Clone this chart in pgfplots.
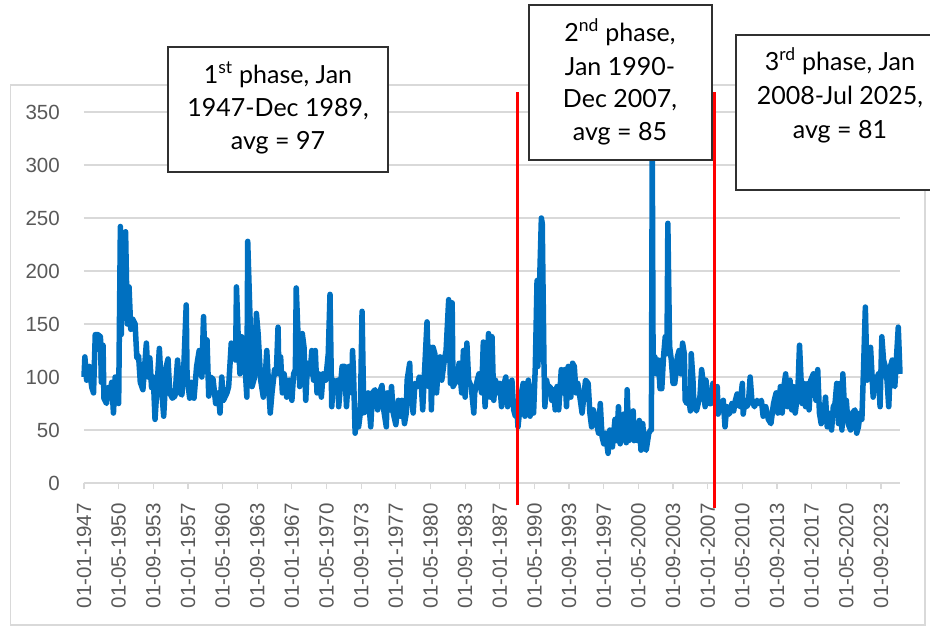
\documentclass[border=0pt]{standalone}
\usepackage{fontspec}
\setmainfont{Liberation Sans}
\newfontfamily\boxfont{Lato}
\usepackage{pgfplots}
\pgfplotsset{compat=1.18}
\definecolor{lineblue}{HTML}{0070C0}
\definecolor{gridgray}{HTML}{D9D9D9}
\definecolor{ticktext}{HTML}{595959}
\definecolor{boxedge}{HTML}{303030}
\newcommand{\boxline}[3]{\node[anchor=base, inner sep=0pt, font=\boxfont\fontsize{25}{30}\selectfont, text=black] at (#1pt,-#2pt) {#3};}
\begin{document}
\begin{tikzpicture}
\clip (0pt,0pt) rectangle (930pt,-627pt);
\fill[white] (0pt,0pt) rectangle (930pt,-627pt);
\draw[gridgray, line width=1.2pt] (10.5pt,-85pt) rectangle (925pt,-625pt);
\begin{axis}[
  at={(84pt,-483pt)}, anchor=south west,
  width=816pt, height=371pt, scale only axis,
  xmin=0, xmax=942, ymin=0, ymax=350,
  axis x line*=bottom, axis y line*=left,
  x axis line style={gridgray, line width=1.5pt},
  y axis line style={draw=none},
  xtick={0,40,...,920},
  xticklabels={01-01-1947,01-05-1950,01-09-1953,01-01-1957,01-05-1960,01-09-1963,01-01-1967,01-05-1970,01-09-1973,01-01-1977,01-05-1980,01-09-1983,01-01-1987,01-05-1990,01-09-1993,01-01-1997,01-05-2000,01-09-2003,01-01-2007,01-05-2010,01-09-2013,01-01-2017,01-05-2020,01-09-2023},
  ytick={0,50,...,350},
  ymajorgrids, grid style={gridgray, line width=1.2pt},
  tick align=outside,
  major tick length=6pt,
  xtick style={gridgray, line width=1.2pt},
  ytick style={draw=none},
  /pgf/number format/assume math mode=true,
  tick label style={font=\fontsize{20.5}{24}\selectfont, text=ticktext},
  xticklabel style={rotate=90, anchor=east, inner sep=0pt},
  yticklabel style={anchor=east, inner sep=0pt},
  xticklabel shift=14pt,
  yticklabel shift=18pt,
  clip=false,
]
\addplot[lineblue, line width=5.5pt, line join=round, mark=none] coordinates {
(0,100)(1,119)(3,97)(6,110)(9,90)(11,85)(13,140)(16,140)(19,138)(20,95)(22,130)(23,80)(26,75)(28,90)(30,85)(32,95)(34,66)(36,100)(38,100)(40,75)
(42,242)(43,140)(45,230)(48,237)(50,150)(52,185)(54,145)(56,155)(59,150)(61,118)(63,120)(65,95)(68,88)(70,110)(72,132)(74,100)(76,118)(78,90)(80,100)(82,60)
(85,100)(87,127)(89,95)(92,63)(95,110)(97,117)(99,85)(102,80)(105,82)(108,116)(111,85)(113,83)(115,105)(118,168)(119,100)(122,80)(124,95)(127,80)(130,110)(133,125)
(136,100)(138,157)(140,105)(142,135)(144,82)(146,100)(149,98)(152,75)(155,85)(157,66)(159,100)(161,78)(165,85)(167,91)(170,132)(172,122)(175,116)(176,185)(178,138)(180,103)
(182,138)(185,122)(188,81)(189,228)(192,147)(194,91)(197,100)(199,160)(201,141)(204,97)(207,81)(209,97)(211,125)(213,94)(215,66)(217,85)(220,107)(222,103)(224,147)(225,103)
(227,119)(229,85)(231,103)(234,81)(237,97)(240,78)(242,103)(244,107)(245,184)(247,141)(249,91)(252,141)(254,128)(256,78)(258,113)(261,103)(263,125)(265,97)(267,125)(269,85)
(271,103)(274,81)(276,103)(279,97)(282,122)(284,178)(286,72)(288,97)(291,85)(293,97)(294,72)(298,110)(301,110)(303,72)(306,110)(309,85)(310,125)(311,107)(313,47)(315,69)
(317,53)(319,66)(321,162)(323,66)(326,69)(328,85)(331,53)(333,85)(336,88)(339,69)(341,85)(344,92)(346,69)(349,53)(350,85)(353,69)(355,91)(357,66)(360,55)(363,78)
(365,63)(367,78)(370,56)(372,66)(373,97)(376,113)(377,85)(380,66)(382,94)(385,91)(387,100)(389,99)(391,69)(393,103)(396,152)(398,91)(400,128)(401,69)(403,128)(405,122)
(407,85)(409,110)(411,119)(413,97)(416,116)(418,125)(421,173)(423,94)(425,170)(426,91)(428,94)(431,97)(433,113)(436,85)(438,125)(440,81)(442,132)(444,97)(447,91)(450,66)
(451,85)(454,97)(456,103)(459,85)(461,133)(463,72)(465,97)(467,141)(469,81)(471,138)(473,78)(475,97)(478,85)(480,94)(482,72)(484,91)(487,100)(489,72)(492,91)(494,97)
(496,69)(498,63)(500,66)(501,53)(505,85)(507,94)(509,63)(511,91)(513,97)(515,63)(517,91)(519,66)(521,110)(523,191)(524,110)(526,191)(528,250)(529,245)(531,113)(532,72)
(534,97)(536,88)(538,91)(540,78)(542,88)(544,69)(546,91)(548,69)(551,107)(552,85)(555,107)(557,72)(559,110)(562,81)(564,113)(566,110)(568,85)(570,94)(573,78)(575,66)
(579,97)(582,94)(584,66)(586,53)(588,69)(591,60)(594,47)(596,75)(598,44)(600,37)(602,47)(605,28)(607,50)(610,34)(613,60)(615,40)(617,72)(619,37)(621,60)(623,65)
(626,38)(627,88)(629,40)(632,47)(634,68)(635,40)(637,56)(639,40)(641,59)(643,31)(645,56)(647,34)(649,31)(652,47)(654,50)(655,50)(656,320)(657,110)(659,119)(661,103)
(663,116)(665,89)(667,89)(669,119)(671,138)(673,122)(674,245)(676,129)(678,116)(680,94)(682,94)(684,110)(685,119)(687,125)(689,103)(691,132)(693,122)(694,78)(696,75)(698,81)
(700,68)(701,122)(703,97)(704,75)(707,68)(709,75)(711,81)(713,107)(715,94)(717,72)(718,97)(720,81)(722,75)(724,75)(726,94)(729,84)(731,91)(732,65)(734,75)(736,72)
(738,78)(740,53)(742,72)(745,65)(748,75)(750,68)(752,78)(754,84)(755,75)(757,72)(760,94)(761,65)(763,78)(765,72)(767,75)(769,100)(771,78)(774,72)(777,78)(779,75)
(782,78)(784,63)(787,72)(790,60)(793,56)(796,75)(799,85)(801,66)(804,91)(806,66)(807,85)(810,103)(812,72)(815,97)(817,69)(819,91)(821,66)(824,85)(826,130)(829,75)
(831,94)(833,72)(836,94)(837,69)(839,97)(842,103)(845,78)(847,107)(849,66)(851,56)(854,63)(856,81)(858,53)(859,66)(863,50)(865,72)(867,75)(869,94)(871,56)(873,94)
(875,50)(876,103)(878,69)(880,78)(882,56)(885,50)(887,66)(890,69)(892,47)(894,53)(896,66)(898,60)(900,110)(902,166)(904,97)(906,122)(908,128)(910,97)(911,81)(913,100)
(915,91)(917,103)(919,72)(921,138)(923,116)(925,110)(927,97)(929,72)(931,110)(933,116)(934,94)(936,91)(938,119)(940,147)(942,103)
};
\draw[red, line width=3pt] (axis cs:500,-21) -- (axis cs:500,369);
\draw[red, line width=3pt] (axis cs:727.5,-23.5) -- (axis cs:727.5,369);
\end{axis}
\draw[boxedge, line width=1.3pt, fill=white] (168pt,-47pt) rectangle (388pt,-172pt);
\boxline{278}{83}{1\textsuperscript{st} phase, Jan}
\boxline{278}{116}{1947-Dec 1989,}
\boxline{278}{149}{avg = 97}
\draw[boxedge, line width=1.3pt, fill=white] (529pt,-5pt) rectangle (712pt,-160pt);
\boxline{620}{41}{2\textsuperscript{nd} phase,}
\boxline{620}{75}{Jan 1990-}
\boxline{620}{107}{Dec 2007,}
\boxline{620}{140}{avg = 85}
\draw[boxedge, line width=1.3pt, fill=white] (736pt,-35pt) rectangle (945pt,-190pt);
\boxline{840}{70}{3\textsuperscript{rd} phase, Jan}
\boxline{840}{104}{2008-Jul 2025,}
\boxline{840}{138}{avg = 81}
\end{tikzpicture}
\end{document}
